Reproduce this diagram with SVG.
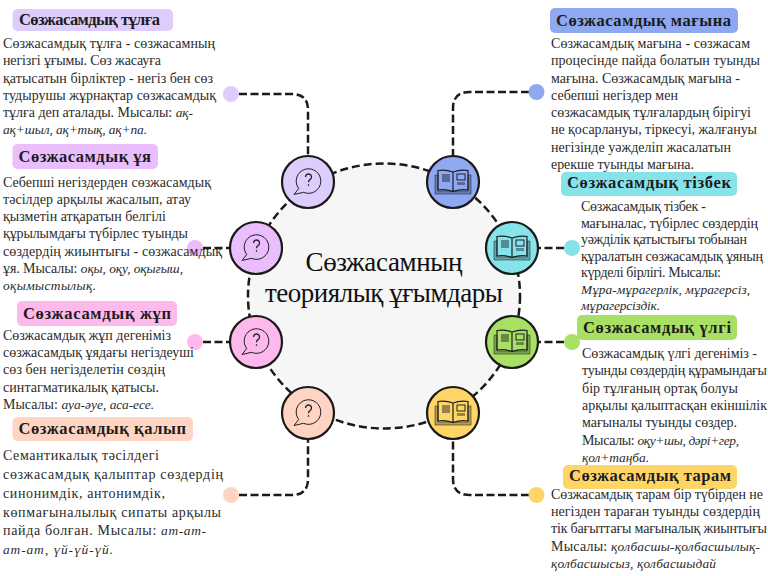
<svg xmlns="http://www.w3.org/2000/svg" width="768" height="576" viewBox="0 0 768 576">
<style>
.b{font-family:"Liberation Serif","DejaVu Serif",serif;font-size:14px;fill:#2b2b2b}
.i{font-style:italic;font-size:13.4px}
.t{font-family:"Liberation Serif","DejaVu Serif",serif;font-weight:700;font-size:16.500px;fill:#1c1c1c}
.m{font-family:"Liberation Serif",serif;font-size:27px;fill:#111;text-anchor:middle}
.c{fill:none;stroke:#1a1a1a;stroke-width:2.5;stroke-dasharray:8 3.500}
.n{stroke:#1a1a1a;stroke-width:2.2}
.ic{fill:none;stroke:#1e1e26;stroke-width:1}
</style>
<defs>
<g id="bubble" class="ic">
<path d="M-9.300 6.500L-14 12.500L-4.500 10.300A12.300 12.300 0 1 0-9.300 6.500Z"/>
<path d="M-2.500-5a3 3 0 1 1 4.500 2.600q-1.500.8-1.500 2.600M.5 2.200v1.600" stroke-width="1.300"/>
</g>
<g id="book" class="ic">
<path d="M-18-7H-15V9H15V-7H18V12H-18Z" fill="#1e1e26" fill-opacity=".32" stroke-opacity=".5"/>
<path d="M0-10Q-7-12.500-15-11.500V8Q-7 7 0 9.500Q7 7 15 8V-11.500Q7-12.500 0-10V9.500" stroke-width="1.200"/>
<path d="M-11-7H-3M-11-5H-3M-11-3H-3M-11-1H-3" stroke-width=".9"/>
<rect x="4" y="-8" width="8" height="6" />
<rect x="4" y="0" width="8" height="3" fill="#1e1e26" fill-opacity=".45" stroke="none"/>
</g>
</defs>
<rect width="768" height="576" fill="#fff"/>
<g id="center">
<ellipse cx="384" cy="296" rx="136" ry="132.500" fill="#f6f6f6" stroke="#1a1a1a" stroke-width="2.500" stroke-dasharray="8 4"/>
<text class="m" x="384" y="271" textLength="157" lengthAdjust="spacing">Сөзжасамның</text>
<text class="m" x="384" y="302" textLength="238" lengthAdjust="spacing">теориялық ұғымдары</text>
</g>
<g id="connectors">
<path class="c" d="M239 94H292Q308 94 308 110V156"/>
<path class="c" d="M203 248H230"/>
<path class="c" d="M203 342H230"/>
<path class="c" d="M239 495H292Q308 495 308 479V439"/>
<path class="c" d="M529 92H470Q453 92 453 108V156"/>
<path class="c" d="M564 248H538"/>
<path class="c" d="M564 342H538"/>
<path class="c" d="M529 495H470Q453 495 453 479V439"/>
</g>
<g id="node-tulga">
<circle cx="231" cy="94" r="8" fill="#dccdfc"/>
<circle class="n" cx="308" cy="182" r="26" fill="#dccdfc"/>
<use href="#bubble" x="308" y="182"/>
<rect x="12.500" y="9" width="160.500" height="22" rx="5" fill="#dccdfc"/>
<text class="t" x="19" y="25" textLength="141">Сөзжасамдық тұлға</text>
<text class="b" x="3" y="48" textLength="212">Сөзжасамдық тұлға - сөзжасамның</text>
<text class="b" x="3" y="65" textLength="158">негізгі ұғымы. Сөз жасауға</text>
<text class="b" x="3" y="83" textLength="210">қатысатын бірліктер - негіз бен сөз</text>
<text class="b" x="3" y="100" textLength="213">тудырушы жұрнақтар сөзжасамдық</text>
<text class="b" x="3" y="117" textLength="190">тұлға деп аталады. Мысалы: <tspan class="i">ақ-</tspan></text>
<text class="b i" x="3" y="134" textLength="144">ақ+шыл, ақ+тық, ақ+па.</text>
</g>
<g id="node-uya">
<circle cx="195" cy="248" r="8" fill="#eabdfd"/>
<circle class="n" cx="256" cy="248" r="26" fill="#eabdfd"/>
<use href="#bubble" x="256" y="248"/>
<rect x="12.500" y="144" width="145.500" height="25" rx="5" fill="#eabdfd"/>
<text class="t" x="18.500" y="162" textLength="132.500">Сөзжасамдық ұя</text>
<text class="b" x="3" y="187" textLength="208">Себепші негіздерден сөзжасамдық</text>
<text class="b" x="3" y="204" textLength="188">тәсілдер арқылы жасалып, атау</text>
<text class="b" x="3" y="221" textLength="163">қызметін атқаратын белгілі</text>
<text class="b" x="3" y="238" textLength="185">құрылымдағы түбірлес туынды</text>
<text class="b" x="3" y="256" textLength="219">сөздердің жиынтығы - сөзжасамдық</text>
<text class="b" x="3" y="273" textLength="180">ұя. Мысалы: <tspan class="i">оқы, оқу, оқығыш,</tspan></text>
<text class="b i" x="3" y="290" textLength="93">оқымыстылық.</text>
</g>
<g id="node-jup">
<circle cx="195" cy="342" r="8" fill="#fdb9ec"/>
<circle class="n" cx="256" cy="342" r="26" fill="#fdb9ec"/>
<use href="#bubble" x="256" y="342"/>
<rect x="17" y="301" width="160" height="25" rx="5" fill="#fdb9ec"/>
<text class="t" x="23" y="319" textLength="148">Сөзжасамдық жұп</text>
<text class="b" x="3" y="340" textLength="168">Сөзжасамдық жұп дегеніміз</text>
<text class="b" x="3" y="357" textLength="191">сөзжасамдық ұядағы негіздеуші</text>
<text class="b" x="3" y="374" textLength="162">сөз бен негізделетін сөздің</text>
<text class="b" x="3" y="392" textLength="156">синтагматикалық қатысы.</text>
<text class="b" x="3" y="409" textLength="151">Мысалы: <tspan class="i">ауа-әуе, аса-есе.</tspan></text>
</g>
<g id="node-qalyp">
<circle cx="231" cy="495" r="8" fill="#ffd4c2"/>
<circle class="n" cx="308" cy="413" r="26" fill="#ffd4c2"/>
<use href="#bubble" x="308" y="413"/>
<rect x="12.500" y="417" width="180.500" height="24" rx="5" fill="#ffd4c2"/>
<text class="t" x="18.500" y="434" textLength="167.500">Сөзжасамдық қалып</text>
<text class="b" x="3" y="460" textLength="156">Семантикалық тәсілдегі</text>
<text class="b" x="3" y="479" textLength="220">сөзжасамдық қалыптар сөздердің</text>
<text class="b" x="3" y="498" textLength="162">синонимдік, антонимдік,</text>
<text class="b" x="3" y="517" textLength="218">көпмағыналылық сипаты арқылы</text>
<text class="b" x="3" y="535" textLength="203">пайда болған. Мысалы: <tspan class="i">ат-ат-</tspan></text>
<text class="b i" x="3" y="554" textLength="110">ат-ат, үй-үй-үй.</text>
</g>
<g id="node-magyna">
<circle cx="536.500" cy="92" r="8" fill="#8ea8f2"/>
<circle class="n" cx="453" cy="182" r="26" fill="#8ea8f2"/>
<use href="#book" x="453" y="182"/>
<rect x="550" y="8" width="188" height="25" rx="5" fill="#8ea8f2"/>
<text class="t" x="556" y="26" textLength="175">Сөзжасамдық мағына</text>
<text class="b" x="551" y="48" textLength="199">Сөзжасамдық мағына - сөзжасам</text>
<text class="b" x="551" y="65" textLength="209">процесінде пайда болатын туынды</text>
<text class="b" x="551" y="83" textLength="189">мағына. Сөзжасамдық мағына -</text>
<text class="b" x="551" y="100" textLength="127">себепші негіздер мен</text>
<text class="b" x="551" y="117" textLength="200">сөзжасамдық тұлғалардың бірігуі</text>
<text class="b" x="551" y="134" textLength="206">не қосарлануы, тіркесуі, жалғануы</text>
<text class="b" x="551" y="152" textLength="180">негізінде уәжделіп жасалатын</text>
<text class="b" x="551" y="169" textLength="143">ерекше туынды мағына.</text>
</g>
<g id="node-tizbek">
<circle cx="572" cy="248" r="8" fill="#86e3ea"/>
<circle class="n" cx="512" cy="248" r="26" fill="#86e3ea"/>
<use href="#book" x="512" y="248"/>
<rect x="561" y="172" width="176" height="24" rx="5" fill="#86e3ea"/>
<text class="t" x="567" y="188" textLength="164">Сөзжасамдық тізбек</text>
<text class="b" x="581" y="211" textLength="125">Сөзжасамдық тізбек -</text>
<text class="b" x="581" y="228" textLength="177">мағыналас, түбірлес сөздердің</text>
<text class="b" x="581" y="244" textLength="166">уәжділік қатыстығы тобынан</text>
<text class="b" x="581" y="261" textLength="182">құралатын сөзжасамдық ұяның</text>
<text class="b" x="581" y="277" textLength="140">күрделі бірлігі. Мысалы:</text>
<text class="b i" x="581" y="294" textLength="169">Мұра-мұрагерлік, мұрагерсіз,</text>
<text class="b i" x="581" y="310" textLength="79">мұрагерсіздік.</text>
</g>
<g id="node-ulgi">
<circle cx="572" cy="342" r="8" fill="#a8e063"/>
<circle class="n" cx="512" cy="342" r="26" fill="#a8e063"/>
<use href="#book" x="512" y="342"/>
<rect x="577" y="315" width="160" height="25" rx="5" fill="#a8e063"/>
<text class="t" x="583" y="333" textLength="148">Сөзжасамдық үлгі</text>
<text class="b" x="582" y="358" textLength="175">Сөзжасамдық үлгі дегеніміз -</text>
<text class="b" x="582" y="375" textLength="185">туынды сөздердің құрамындағы</text>
<text class="b" x="582" y="393" textLength="156">бір тұлғаның ортақ болуы</text>
<text class="b" x="582" y="410" textLength="185">арқылы қалыптасқан екіншілік</text>
<text class="b" x="582" y="427" textLength="155">мағыналы туынды сөздер.</text>
<text class="b" x="582" y="445" textLength="157">Мысалы: <tspan class="i">оқу+шы, дәрі+гер,</tspan></text>
<text class="b i" x="582" y="462" textLength="67">қол+таңба.</text>
</g>
<g id="node-taram">
<circle cx="536.500" cy="495" r="8" fill="#ffd666"/>
<circle class="n" cx="453" cy="413" r="26" fill="#ffd666"/>
<use href="#book" x="453" y="413"/>
<rect x="563" y="465" width="174" height="24" rx="5" fill="#ffd666"/>
<text class="t" x="569" y="481" textLength="162">Сөзжасамдық тарам</text>
<text class="b" x="551" y="499" textLength="212">Сөзжасамдық тарам бір түбірден не</text>
<text class="b" x="551" y="516" textLength="209">негізден тараған туынды сөздердің</text>
<text class="b" x="551" y="533" textLength="216">тік бағыттағы мағыналық жиынтығы</text>
<text class="b" x="551" y="551" textLength="209">Мысалы: <tspan class="i">қолбасшы-қолбасшылық-</tspan></text>
<text class="b i" x="551" y="568" textLength="165">қолбасшысыз, қолбасшыдай</text>
</g>
</svg>
